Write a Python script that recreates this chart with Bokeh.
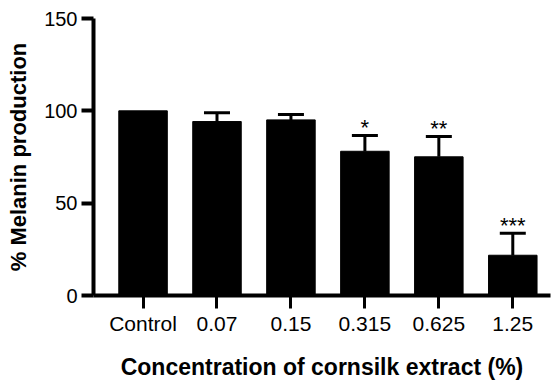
from bokeh.plotting import figure
from bokeh.models import ColumnDataSource, Range1d, FixedTicker, Whisker, TeeHead
from bokeh.core.properties import value
from bokeh.embed import file_html
from bokeh.resources import INLINE

categories = ["Control", "0.07", "0.15", "0.315", "0.625", "1.25"]
melanin = [100, 94.2, 95.1, 78.1, 75.1, 21.8]
sem = [0, 4.7, 2.9, 8.5, 11.0, 11.9]
significance = ["", "", "", "*", "**", "***"]
y_ticks = [0, 50, 100, 150]

xs = list(range(len(categories)))

p = figure(width=552, height=383, output_backend="svg", toolbar_location=None,
           x_range=Range1d(-0.67, 5.51), y_range=Range1d(0, 150),
           min_border_left=93, min_border_right=2, min_border_top=18, min_border_bottom=88)
p.outline_line_color = None
p.grid.grid_line_color = None
p.background_fill_color = "white"
p.border_fill_color = "white"

bars = ColumnDataSource(dict(x=xs, top=melanin))
p.vbar(x="x", top="top", width=0.656, bottom=0, source=bars,
       fill_color="black", line_color="black", line_width=1)

ex = [x for x, e in zip(xs, sem) if e > 0]
ev = [m for m, e in zip(melanin, sem) if e > 0]
eu = [m + e for m, e in zip(melanin, sem) if e > 0]
err = ColumnDataSource(dict(x=ex, lower=ev, upper=eu))
p.add_layout(Whisker(base="x", lower="lower", upper="upper", source=err,
                     line_width=3, line_color="black", lower_head=None,
                     upper_head=TeeHead(size=26, line_width=3, line_color="black")))

sx = [x for x, s in zip(xs, significance) if s]
sy = [m + e for m, e, s in zip(melanin, sem, significance) if s]
st = [s for s in significance if s]
sig = ColumnDataSource(dict(x=sx, y=sy, t=st))
p.text(x="x", y="y", text="t", source=sig, text_align="center",
       text_baseline="alphabetic", text_font=value("Liberation Sans"),
       text_font_size="22px", text_color="black", y_offset=-8)

# x axis
xa = p.xaxis[0]
xa.ticker = FixedTicker(ticks=xs)
xa.major_label_overrides = {i: c for i, c in zip(xs, categories)}
xa.axis_line_width = 4
xa.major_tick_line_width = 3
xa.major_tick_out = 13
xa.major_tick_in = 0
xa.minor_tick_line_color = None
xa.major_label_text_font = "Liberation Sans"
xa.major_label_text_font_size = "21px"
xa.major_label_text_color = "black"
xa.major_label_standoff = 3
xa.axis_label = "Concentration of cornsilk extract (%)"
xa.axis_label_text_font = "Liberation Sans"
xa.axis_label_text_font_style = "bold"
xa.axis_label_text_font_size = "23px"
xa.axis_label_text_color = "black"
xa.axis_label_standoff = 16

# y axis
ya = p.yaxis[0]
ya.ticker = FixedTicker(ticks=y_ticks)
ya.axis_line_width = 4
ya.major_tick_line_width = 4
ya.major_tick_out = 12
ya.major_tick_in = 0
ya.minor_tick_line_color = None
ya.major_label_text_font = "Liberation Sans"
ya.major_label_text_font_size = "20px"
ya.major_label_text_color = "black"
ya.major_label_standoff = 4
ya.axis_label = "% Melanin production"
ya.axis_label_text_font = "Liberation Sans"
ya.axis_label_text_font_style = "bold"
ya.axis_label_text_font_size = "22px"
ya.axis_label_text_color = "black"
ya.axis_label_standoff = 10

open("out.html", "w").write(file_html(p, INLINE))
